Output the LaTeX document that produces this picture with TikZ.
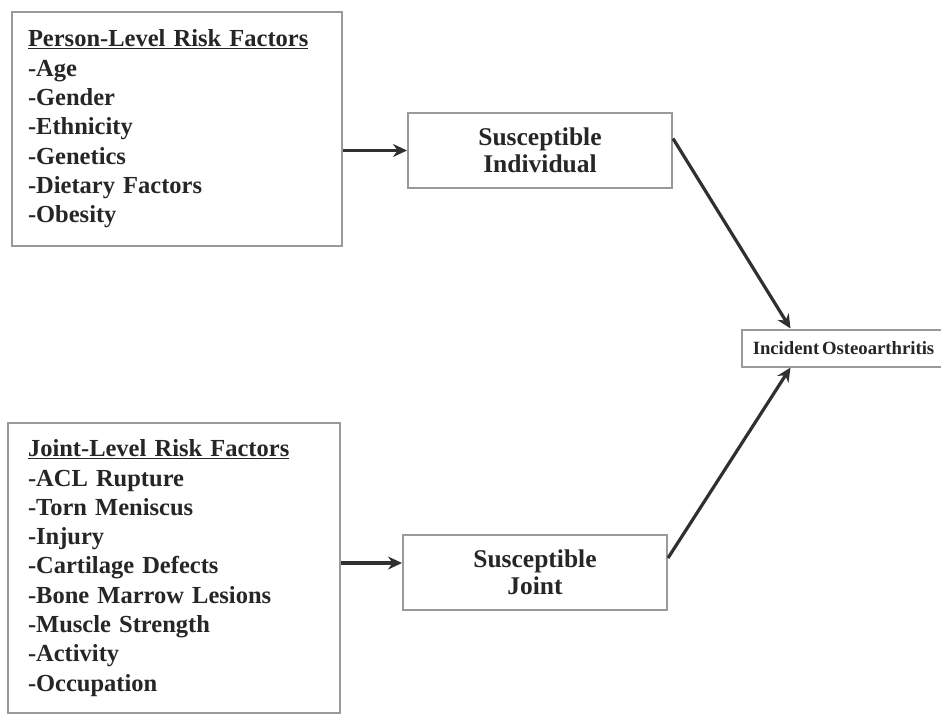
\documentclass[tikz,border=0pt]{standalone}
\usepackage{fontspec}
\setmainfont{Liberation Serif}[WordSpace=0.6]
\usetikzlibrary{arrows.meta}
\definecolor{boxgray}{HTML}{9A9A9A}
\definecolor{ink}{HTML}{262626}
\definecolor{arrowink}{HTML}{303030}
\tikzset{
  listbox/.style={draw=boxgray, line width=2pt, align=left, anchor=center,
    font=\bfseries\fontsize{24.5}{29.3}\selectfont, text=ink, inner ysep=0pt},
  midbox/.style={draw=boxgray, line width=2pt, align=center, anchor=center,
    font=\bfseries\fontsize{25.5}{27}\selectfont, text=ink,
    minimum width=264pt, minimum height=75pt, inner sep=0pt},
  oabox/.style={draw=boxgray, line width=2pt, anchor=center,
    font=\bfseries\fontsize{18.7}{20}\selectfont, text=ink,
    minimum width=203pt, minimum height=37pt, inner sep=0pt},
  flow/.style={draw=arrowink, line width=3.2pt, -{Stealth[length=14pt,width=13pt]}},
}
\begin{document}
\begin{tikzpicture}[x=1pt,y=-1pt]
\useasboundingbox[fill=white] (0,0) rectangle (941,716);

\node[listbox, inner xsep=16pt, text width=298pt, minimum height=234pt] (P) at (177,129)
  {\underline{Person-Level Risk Factors}\\-Age\\-Gender\\-Ethnicity\\-Genetics\\-Dietary Factors\\-Obesity};

\node[listbox, inner xsep=20pt, text width=292pt, minimum height=290pt] (J) at (174,568)
  {\underline{Joint-Level Risk Factors}\\-ACL Rupture\\-Torn Meniscus\\-Injury\\-Cartilage Defects\\-Bone Marrow Lesions\\-Muscle Strength\\-Activity\\-Occupation};

\node[midbox] (SI) at (540,150.5) {Susceptible\\Individual};
\node[midbox] (SJ) at (535,572) {Susceptible\\Joint};
\node[oabox] (OA) at (843.5,348) {Incident Osteoarthritis};

\draw[flow] (P.east |- SI.west) -- (SI.west);
\draw[flow] ([yshift=9pt]J.east |- SJ.west) -- ([yshift=9pt]SJ.west);
\draw[flow] ([yshift=12pt]SI.east) -- ([xshift=-53pt]OA.north);
\draw[flow] ([yshift=14pt]SJ.east) -- ([xshift=-53pt]OA.south);
\end{tikzpicture}
\end{document}
